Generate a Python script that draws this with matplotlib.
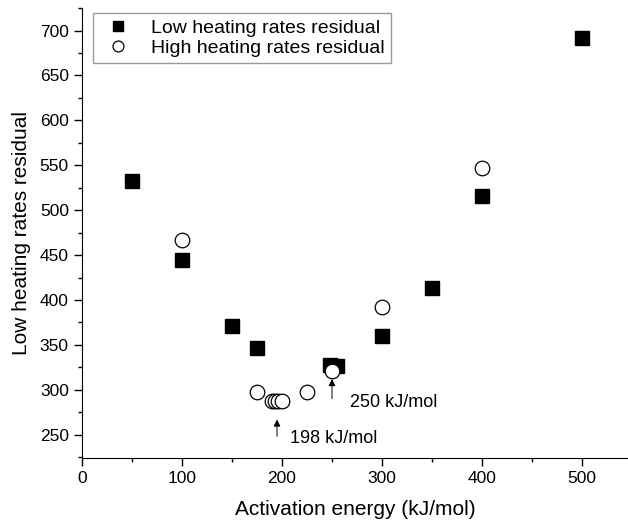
import matplotlib
matplotlib.use('Agg')
import matplotlib.pyplot as plt
from matplotlib.ticker import MultipleLocator

plt.rcParams['font.family'] = ['Liberation Sans', 'DejaVu Sans']

# low heating rates residual
ea_low = [50, 100, 150, 175, 248, 255, 300, 350, 400, 500]
res_low = [532, 444, 371, 346, 328, 327, 360, 413, 516, 692]

# high heating rates residual
ea_high = [100, 175, 190, 193, 196, 200, 225, 250, 300, 400]
res_high = [467, 297, 288, 287, 287, 287, 297, 321, 392, 547]

fig = plt.figure(figsize=(6.28, 5.25), dpi=100)
ax = fig.add_axes([0.1306, 0.1276, 0.8694, 0.857])

ax.plot(ea_low, res_low, 's', color='black', markersize=9.5, label='Low heating rates residual')
ax.plot(ea_high, res_high, 'o', mfc='white', mec='black', mew=0.9, markersize=10.5,
        label='High heating rates residual')

ax.annotate('', xy=(250, 315), xytext=(250, 287),
            arrowprops=dict(arrowstyle='-|>', color='black', lw=0.7, mutation_scale=10))
ax.text(268, 286, '250 kJ/mol', fontsize=13, va='center')
ax.annotate('', xy=(195, 270), xytext=(195, 245),
            arrowprops=dict(arrowstyle='-|>', color='black', lw=0.7, mutation_scale=10))
ax.text(208, 246, '198 kJ/mol', fontsize=13, va='center')

ax.set_xlim(0, 546)
ax.set_ylim(224, 725)
ax.xaxis.set_major_locator(MultipleLocator(100))
ax.xaxis.set_minor_locator(MultipleLocator(50))
ax.yaxis.set_minor_locator(MultipleLocator(25))
ax.set_yticks(range(250, 701, 50))
ax.tick_params(which='major', direction='out', length=6, width=1, labelsize=12.5)
ax.tick_params(which='minor', direction='out', length=3, width=1)
ax.spines['top'].set_visible(False)
ax.spines['right'].set_visible(False)

ax.set_xlabel('Activation energy (kJ/mol)', fontsize=15, labelpad=10)
ax.set_ylabel('Low heating rates residual', fontsize=15, labelpad=6)

ax.legend(loc='upper left', bbox_to_anchor=(0.002, 1.01), fontsize=14, frameon=True,
          fancybox=False, edgecolor='gray', handletextpad=0.7, borderpad=0.3,
          labelspacing=0.15, markerscale=0.75)

fig.savefig('out.png', dpi=100)
